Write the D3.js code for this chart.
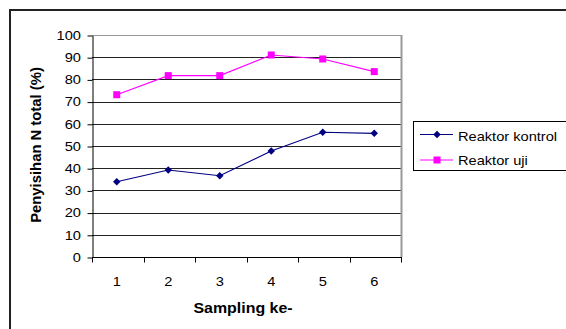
<!DOCTYPE html>
<html>
<head>
<meta charset="utf-8">
<script src="https://cdn.jsdelivr.net/npm/d3@7"></script>
<style>
  html, body { margin: 0; padding: 0; background: #fff; }
  svg { display: block; font-family: "Liberation Sans", Arial, sans-serif; }
</style>
</head>
<body>
<svg id="chart" width="566" height="329"></svg>
<script>
// Sampling rounds and total-N removal (%) for the two reactors
const samplings = ["1", "2", "3", "4", "5", "6"];
const kontrol = [33.9, 39.2, 36.6, 47.7, 56.2, 55.7];
const uji = [73.1, 81.7, 81.7, 91.0, 89.2, 83.5];
const yTicks = [0, 10, 20, 30, 40, 50, 60, 70, 80, 90, 100];
const seriesNames = ["Reaktor kontrol", "Reaktor uji"];

const FS = 13.3;      // font size
const SX = 1.1;       // horizontal stretch of the lettering

const svg = d3.select("#chart");

// text placed at (x, y) and widened horizontally
function label(parent, x, y, str, anchor, bold, size, sx) {
  return parent.append("text")
    .attr("transform", `translate(${x},${y}) scale(${sx || SX},1)`)
    .attr("text-anchor", anchor || "start")
    .attr("font-size", size || FS)
    .attr("font-weight", bold ? "bold" : "normal")
    .attr("fill", "#000")
    .text(str);
}

// outer frame
svg.append("rect")
  .attr("x", 10).attr("y", 10)
  .attr("width", 600).attr("height", 400)
  .attr("fill", "none").attr("stroke", "#222").attr("stroke-width", 2);

const plot = { left: 92, right: 401, top: 35, bottom: 257 };

const x = d3.scaleBand().domain(samplings).range([plot.left, plot.right]).padding(0);
const y = d3.scaleLinear().domain([0, 100]).range([plot.bottom, plot.top]);

// gridlines
svg.append("g").selectAll("line").data(yTicks.filter(t => t > 0)).join("line")
  .attr("x1", plot.left).attr("x2", plot.right)
  .attr("y1", d => Math.round(y(d)) + 0.5).attr("y2", d => Math.round(y(d)) + 0.5)
  .attr("stroke", d => d === 100 ? "#999" : "#222").attr("stroke-width", 1);

// right border of the plot area
svg.append("line")
  .attr("x1", plot.right + 0.5).attr("x2", plot.right + 0.5)
  .attr("y1", plot.top).attr("y2", plot.bottom)
  .attr("stroke", "#999").attr("stroke-width", 2);

// y axis
const yAxis = svg.append("g")
  .attr("transform", `translate(${plot.left + 0.5},0.5)`)
  .call(d3.axisLeft(y).tickValues(yTicks).tickSize(5).tickSizeOuter(0).tickFormat(""));
yAxis.select(".domain").attr("stroke", "#000");
yAxis.selectAll(".tick line").attr("stroke", "#000");
yTicks.forEach(t => label(svg, 81, y(t) + 4.8, String(t), "end"));

// x axis: ticks at category boundaries
const xg = svg.append("g").attr("transform", `translate(0,${plot.bottom + 0.5})`);
xg.append("line").attr("x1", plot.left).attr("x2", plot.right + 1)
  .attr("y1", 0).attr("y2", 0).attr("stroke", "#000");
const bounds = samplings.map(s => x(s)).concat([plot.right]);
xg.selectAll("line.tk").data(bounds).join("line").attr("class", "tk")
  .attr("x1", d => Math.round(d) + 0.5).attr("x2", d => Math.round(d) + 0.5)
  .attr("y1", 0).attr("y2", 5).attr("stroke", "#000");
samplings.forEach(s => label(xg, x(s) + x.bandwidth() / 2 - 1, 28.3, s, "middle"));

// axis titles
svg.append("text")
  .attr("transform", `translate(41,${(plot.top + plot.bottom) / 2 - 1}) scale(1,1.06) rotate(-90)`)
  .attr("text-anchor", "middle").attr("font-size", 14).attr("font-weight", "bold")
  .text("Penyisihan N total (%)");
label(svg, 243, 313.3, "Sampling ke-", "middle", true, 14, 1.14);

const cx = s => x(s) + x.bandwidth() / 2 - 1;
const line = d3.line().x((d, i) => cx(samplings[i])).y(d => y(d));

// Reaktor kontrol (navy, diamonds)
svg.append("path").datum(kontrol).attr("d", line)
  .attr("fill", "none").attr("stroke", "#000080").attr("stroke-width", 1.1);
svg.append("g").selectAll("path").data(kontrol).join("path")
  .attr("transform", (d, i) => `translate(${cx(samplings[i])},${y(d)})`)
  .attr("d", d3.symbol(d3.symbolDiamond2, 36))
  .attr("fill", "#000080");

// Reaktor uji (magenta, squares)
svg.append("path").datum(uji).attr("d", line)
  .attr("fill", "none").attr("stroke", "#ff00ff").attr("stroke-width", 1.1);
svg.append("g").selectAll("rect").data(uji).join("rect")
  .attr("x", (d, i) => cx(samplings[i]) - 3.5).attr("y", d => y(d) - 3.5)
  .attr("width", 7).attr("height", 7).attr("fill", "#ff00ff");

// legend
const lg = svg.append("g");
lg.append("rect").attr("x", 413.5).attr("y", 121.5).attr("width", 170).attr("height", 49)
  .attr("fill", "#fff").attr("stroke", "#000").attr("stroke-width", 1);
const legendColors = ["#000080", "#ff00ff"];
const legendRowY = [134.5, 160];
const legendTextY = [140.8, 164.8];
seriesNames.forEach((name, i) => {
  const ly = legendRowY[i];
  lg.append("line").attr("x1", 420).attr("x2", 453).attr("y1", ly).attr("y2", ly)
    .attr("stroke", legendColors[i]).attr("stroke-width", 1.1);
  if (i === 0) {
    lg.append("path").attr("transform", `translate(437,${ly})`)
      .attr("d", d3.symbol(d3.symbolDiamond2, 36)).attr("fill", legendColors[i]);
  } else {
    lg.append("rect").attr("x", 433.5).attr("y", ly - 3.5).attr("width", 7).attr("height", 7)
      .attr("fill", legendColors[i]);
  }
  label(lg, 458, legendTextY[i], name, "start");
});
</script>
</body>
</html>
